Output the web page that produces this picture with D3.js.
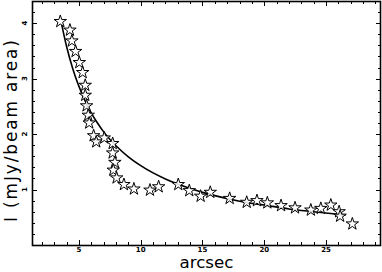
<!DOCTYPE html>
<html><head><meta charset="utf-8">
<script src="https://cdn.jsdelivr.net/npm/d3@7"></script>
<style>body{margin:0;background:#fff}svg{display:block}</style>
</head><body>
<svg id="c" width="382" height="272"></svg>
<script>
// Observed points (arcsec, mJy/beam area)
const pointX = [3.49,4.27,4.43,4.73,5.03,5.30,5.51,5.51,5.62,5.75,5.83,6.19,6.40,7.05,7.73,7.73,7.91,7.78,8.05,8.64,9.45,10.75,11.45,13.04,13.93,14.85,15.63,17.2,18.58,19.41,20.25,21.36,22.49,23.77,24.58,25.39,26.06,26.14,27.13];
const pointY = [4.03,3.875,3.68,3.49,3.29,3.11,2.88,2.70,2.51,2.34,2.20,1.97,1.86,1.93,1.83,1.66,1.49,1.35,1.21,1.09,1.01,0.99,1.05,1.09,0.98,0.88,0.95,0.84,0.77,0.80,0.76,0.71,0.67,0.63,0.66,0.72,0.60,0.52,0.38];
// Fitted curve
const curveX = [3.6,4.0,4.5,5.0,5.5,6.0,6.5,7.0,8.0,9.0,10.0,12.0,14.0,16.0,18.0,20.0,22.0,24.0,26.6];
const curveY = [3.98,3.58,3.18,2.86,2.60,2.38,2.20,2.04,1.79,1.59,1.43,1.19,1.02,0.89,0.79,0.72,0.65,0.60,0.54];
const xTicks = [5,10,15,20,25];
const yTicks = [1,2,3,4];
const xLabel = "arcsec";
const yLabel = "I (mJy/beam area)";

const svg = d3.select("#c");
const L=32, R=381, T=1, B=245;
const x = d3.scaleLinear().domain([1.2,29.45]).range([L,R]);
const y = d3.scaleLinear().domain([0,4.4]).range([B,T]);

const g = svg.append("g");
const xMinor = d3.range(2,30,1);
const yMinor = d3.range(0.2,4.4,0.2);
const tickG = g.append("g").attr("stroke","#000").attr("stroke-width",1);
xMinor.forEach(v=>{
  const len = (v%5===0)?5:3;
  const px = Math.round(x(v))+0.5;
  tickG.append("line").attr("x1",px).attr("x2",px).attr("y1",B).attr("y2",B-len);
  tickG.append("line").attr("x1",px).attr("x2",px).attr("y1",T).attr("y2",T+len);
});
yMinor.forEach(v=>{
  const major = Math.abs(v-Math.round(v))<1e-6;
  const len = major?5:3;
  const py = Math.round(y(v))+0.5;
  tickG.append("line").attr("x1",L).attr("x2",L+len).attr("y1",py).attr("y2",py);
  tickG.append("line").attr("x1",R).attr("x2",R-len).attr("y1",py).attr("y2",py);
});
g.append("rect").attr("x",L+0.5).attr("y",T+0.5).attr("width",R-L-1).attr("height",B-T)
  .attr("fill","none").attr("stroke","#000").attr("stroke-width",1.6);

g.selectAll("text.xt").data(xTicks).join("text").attr("class","xt")
  .attr("x",d=>x(d)).attr("y",252).attr("text-anchor","middle")
  .attr("font-family","DejaVu Sans, sans-serif").attr("font-weight","bold").attr("font-size",7)
  .text(d=>d);
g.selectAll("text.yt").data(yTicks).join("text").attr("class","yt")
  .attr("transform",d=>`translate(27,${y(d)}) rotate(-90)`).attr("text-anchor","middle")
  .attr("font-family","DejaVu Sans, sans-serif").attr("font-weight","bold").attr("font-size",7)
  .text(d=>d);

g.append("text").attr("x",206.5).attr("y",268).attr("text-anchor","middle")
  .attr("font-family","DejaVu Sans, sans-serif").attr("font-size",15)
  .attr("textLength",54).attr("lengthAdjust","spacingAndGlyphs").text(xLabel);
g.append("text").attr("transform","translate(16.5,131) rotate(-90)").attr("text-anchor","middle")
  .attr("font-family","DejaVu Sans, sans-serif").attr("font-size",17)
  .attr("textLength",182).attr("lengthAdjust","spacing").text(yLabel);

const line = d3.line().x(d=>x(d[0])).y(d=>y(d[1])).curve(d3.curveMonotoneX);
g.append("path").datum(curveX.map((v,i)=>[v,curveY[i]])).attr("d",line)
  .attr("fill","none").attr("stroke","#000").attr("stroke-width",1.6);

const star = d3.symbol().type(d3.symbolStar).size(48);
g.selectAll("path.s").data(pointX.map((v,i)=>[v,pointY[i]])).join("path").attr("class","s")
  .attr("transform",d=>`translate(${x(d[0])},${y(d[1])})`).attr("d",star)
  .attr("fill","#fff").attr("fill-opacity",0.85).attr("stroke","#000").attr("stroke-width",1);
</script>
</body></html>
